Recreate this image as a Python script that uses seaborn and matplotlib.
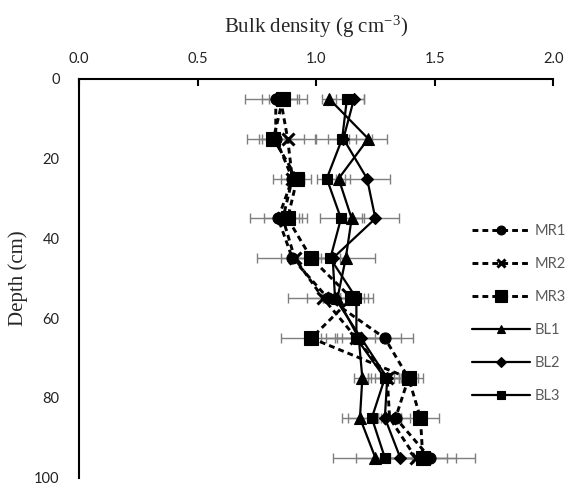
import matplotlib
matplotlib.use('Agg')
import matplotlib.pyplot as plt
import seaborn as sns
import pandas as pd
import numpy as np

depth = [5, 15, 25, 35, 45, 55, 65, 75, 85, 95]

mr1 = [0.83, 0.83, 0.90, 0.84, 0.90, 1.05, 1.29, 1.39, 1.335, 1.48]
mr2 = [0.85, 0.88, 0.90, 0.86, 0.91, 1.03, 1.17, 1.30, 1.31, 1.42]
mr3 = [0.86, 0.82, 0.92, 0.88, 0.98, 1.15, 0.98, 1.39, 1.44, 1.45]
bl1 = [1.055, 1.22, 1.095, 1.15, 1.125, 1.09, 1.18, 1.195, 1.185, 1.25]
bl2 = [1.16, 1.115, 1.215, 1.25, 1.07, 1.08, 1.19, 1.30, 1.29, 1.355]
bl3 = [1.13, 1.11, 1.045, 1.105, 1.06, 1.17, 1.17, 1.29, 1.235, 1.29]

# standard deviations (horizontal error bars)
mr1_sd = [0.13, 0.12, 0.08, 0.12, 0.15, 0.17, 0.12, 0.04, 0.06, 0.19]
mr2_sd = [0.08, 0.12, 0.05, 0.08, 0.06, 0.07, 0.13, 0.05, 0.05, 0.13]
mr3_sd = [0.06, 0.05, 0.03, 0.05, 0.08, 0.05, 0.13, 0.06, 0.08, 0.14]
bl1_sd = [0.03, 0.08, 0.05, 0.05, 0.125, 0.06, 0.10, 0.035, 0.075, 0.18]
bl2_sd = [0.04, 0.12, 0.095, 0.10, 0.06, 0.05, 0.17, 0.08, 0.04, 0.05]
bl3_sd = [0.07, 0.06, 0.04, 0.09, 0.04, 0.07, 0.08, 0.07, 0.10, 0.12]

names = ['MR1', 'MR2', 'MR3', 'BL1', 'BL2', 'BL3']
values = [mr1, mr2, mr3, bl1, bl2, bl3]
errors = [mr1_sd, mr2_sd, mr3_sd, bl1_sd, bl2_sd, bl3_sd]

sns.set_style('white')
plt.rcParams['font.family'] = ['Lato', 'DejaVu Sans']
plt.rcParams['mathtext.fontset'] = 'stix'

fig = plt.figure(figsize=(5.68, 4.87), dpi=100)
ax = fig.add_axes([0.139, 0.019, 0.835, 0.819])

dash = (0, (2.0, 1.4))
styles = {
    'MR1': dict(marker='o', ls=dash, ms=8, lw=2.1),
    'MR2': dict(marker='x', ls=dash, ms=8, lw=2.1),
    'MR3': dict(marker='s', ls=dash, ms=10, lw=2.1),
    'BL1': dict(marker='^', ls='-', ms=8, lw=1.6),
    'BL2': dict(marker='D', ls='-', ms=6.5, lw=1.6),
    'BL3': dict(marker='s', ls='-', ms=7, lw=1.6),
}

for name, vals, sd in zip(names, values, errors):
    ax.errorbar(vals, depth, xerr=sd, fmt='none', ecolor='#7f7f7f',
                elinewidth=1, capsize=3.5, capthick=1, zorder=1)

for name, vals in zip(names, values):
    st = styles[name]
    df = pd.DataFrame({'x': vals, 'depth': depth})
    sns.lineplot(data=df, x='x', y='depth', sort=False, orient='y', ax=ax,
                 color='black', lw=st['lw'], linestyle=st['ls'],
                 marker=st['marker'], markersize=st['ms'],
                 markeredgecolor='black', markerfacecolor='black',
                 markeredgewidth=2.2 if st['marker'] == 'x' else 0.8,
                 label=name, zorder=3)

ax.set_xlim(0, 2.0)
ax.set_ylim(100, 0)
ax.set_xticks(np.arange(0, 2.01, 0.5))
ax.set_yticks(np.arange(0, 101, 20))
ax.xaxis.tick_top()
ax.xaxis.set_label_position('top')
ax.xaxis.set_major_formatter(matplotlib.ticker.FormatStrFormatter('%.1f'))

for s in ['right', 'bottom']:
    ax.spines[s].set_visible(False)
for s in ['top', 'left']:
    ax.spines[s].set_color('black')
    ax.spines[s].set_linewidth(1.5)

ax.tick_params(axis='x', direction='in', length=5, width=1.5, pad=9,
               labelsize=10.5, colors='black', labelcolor='#222222')
ax.tick_params(axis='y', length=0, pad=14, labelsize=10.5, labelcolor='#222222')

ax.set_xlabel(r'Bulk density (g cm$^{\mathregular{-3}}$)',
              family='Liberation Serif', fontsize=15, labelpad=14)
ax.set_ylabel('Depth (cm)', family='Liberation Serif', fontsize=15, labelpad=4)

leg = ax.legend(loc='upper left', bbox_to_anchor=(0.808, 0.567),
                bbox_transform=fig.transFigure, frameon=False,
                handlelength=4, labelspacing=1.3, fontsize=10.5,
                markerscale=0.8, handletextpad=0.3)
for t in leg.get_texts():
    t.set_color('#595959')

fig.savefig('out.png', dpi=100)
